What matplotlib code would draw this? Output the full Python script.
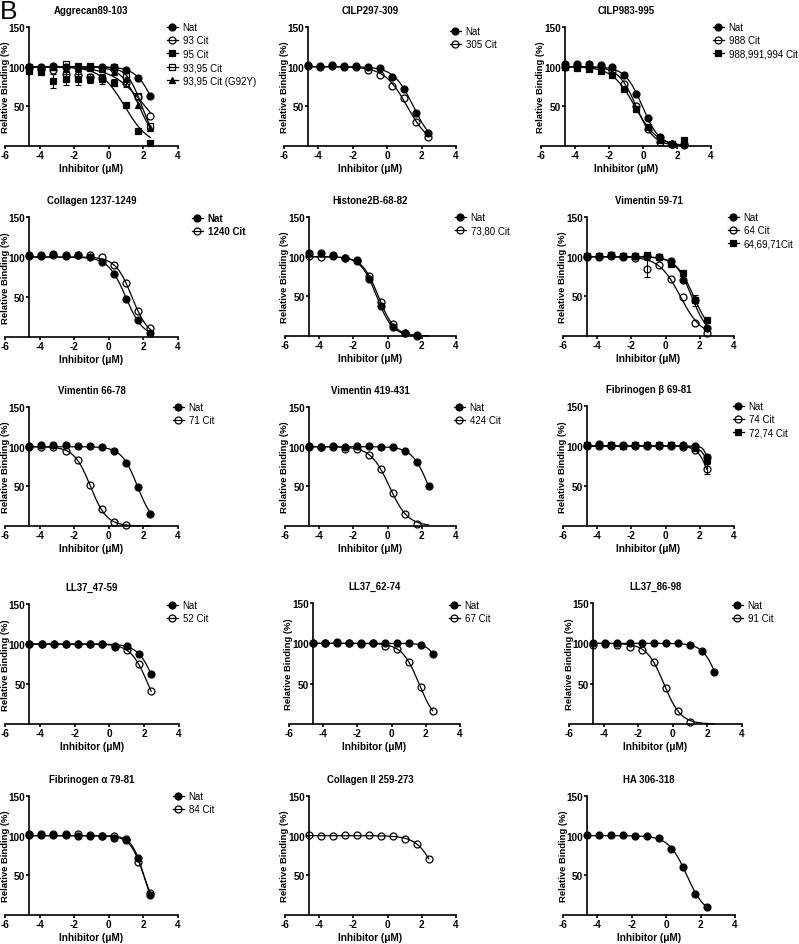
import matplotlib
matplotlib.use("Agg")
import matplotlib.pyplot as plt
from matplotlib.lines import Line2D
import numpy as np

plt.rcParams['font.family'] = ['Liberation Sans', 'DejaVu Sans']
plt.rcParams['axes.unicode_minus'] = False

W, H = 799, 945

# dosis (log) comunes a todos los paneles
X = [-4.6, -3.9, -3.2, -2.5, -1.8, -1.1, -0.4, 0.3, 1.0, 1.7, 2.4]
nan = np.nan

# ---- Aggrecan89-103
agg_nat = [100, 100, 101, 99, 100, 100, 100, 99, 96, 86, 63]
agg_93 = [99, 97, 96, 91, 89, 87, 86, 97, 79, 62, 38]
agg_93_err = [0, 0, 0, 4, 4, 4, 5, 0, 4, 0, 0]
agg_95 = [95, 93, 82, 84, 84, 85, 84, 80, 52, 19, 4]
agg_95_err = [3, 3, 9, 7, 7, 6, 6, 4, 2, 2, 1]
agg_9395 = [100, 98, 100, 103, 101, 101, 98, 100, 88, 63, 25]
agg_g92y = [99, 100, 99, 97, 98, 98, 97, 93, 84, 52, 23]
# ---- CILP297-309
cilp297_nat = [102, 101, 102, 101, 101, 100, 98, 87, 72, 42, 17]
cilp297_305 = [101, 99, 101, 100, 100, 96, 90, 76, 60, 30, 11]
# ---- CILP983-995
cilp983_nat = [103, 103, 103, 102, 99, 89, 65, 35, 11, 3, 2]
cilp983_988 = [100, 101, 100, 99, 94, 78, 50, 21, 5, 2, 1]
cilp983_triple = [100, 98, 97, 95, 89, 72, 47, 24, 7, 3, 8]
# ---- Collagen 1237-1249
col1237_nat = [103, 101, 104, 101, 102, 100, 94, 79, 48, 21, 5]
col1237_1240 = [101, 103, 103, 103, 103, 102, 100, 90, 67, 32, 11]
# ---- Histone2B-68-82
his_nat = [104, 104, 102, 98, 94, 72, 38, 11, 4, 1, nan]
his_7380 = [101, 100, 101, 98, 96, 76, 43, 15, 4, 0.5, nan]
# ---- Vimentin 59-71
vim59_nat = [101, 101, 102, 101, 101, 101, 100, 95, 71, 45, 10]
vim59_64 = [100, 100, 101, 100, 98, 85, 89, 72, 49, 17, 4]
vim59_64_err = [0, 0, 0, 0, 0, 11, 0, 0, 0, 0, 0]
vim59_triple = [101, 101, 102, 101, 101, 102, 99, 91, 79, 45, 20]
vim59_triple_err = [0, 0, 0, 0, 0, 0, 0, 0, 0, 7, 0]
# ---- Vimentin 66-78
vim66_nat = [101, 102, 102, 102, 101, 101, 99, 95, 79, 49, 15]
vim66_71 = [100, 100, 100, 95, 83, 52, 21, 5, 1, nan, nan]
# ---- Vimentin 419-431
vim419_nat = [101, 100, 101, 100, 101, 101, 100, 99, 95, 81, 50]
vim419_424 = [100, 100, 99, 97, 97, 89, 72, 42, 15, 3, nan]
# ---- Fibrinogen b 69-81
fibb_nat = [101, 102, 101, 101, 101, 101, 101, 101, 101, 100, 86]
fibb_74 = [100, 100, 100, 100, 100, 100, 100, 100, 99, 95, 71]
fibb_74_err = [0, 0, 0, 0, 0, 0, 0, 0, 0, 0, 6]
fibb_7274 = [101, 101, 101, 100, 101, 101, 101, 101, 100, 98, 82]
# ---- LL37
ll47_nat = [100, 100, 100, 100, 100, 100, 100, 98, 97, 88, 62]
ll47_52 = [100, 100, 100, 100, 100, 100, 100, 96, 92, 75, 41]
ll62_nat = [101, 101, 102, 101, 100, 100, 100, 100, 100, 98, 87]
ll62_67 = [100, 100, 100, 100, 99, 100, 97, 93, 77, 46, 16]
ll86_nat = [101, 100, 101, 100, 100, 100, 100, 100, 98, 90, 65]
ll86_91 = [98, 99, 98, 96, 92, 77, 45, 16, 3, nan, nan]
# ---- fila inferior
fiba_nat = [101, 101, 101, 101, 100, 100, 99, 97, 94, 72, 25]
fiba_84 = [102, 102, 102, 102, 102, 101, 100, 99, 96, 67, 28]
col2_cit = [101, 100, 100, 101, 101, 101, 100, 99, 96, 90, 71]
ha_nat = [101, 101, 101, 101, 100, 99, 97, 83, 61, 27, 10]

titles = ['Aggrecan89-103', 'CILP297-309', 'CILP983-995',
          'Collagen 1237-1249', 'Histone2B-68-82', 'Vimentin 59-71',
          'Vimentin 66-78', 'Vimentin 419-431', 'Fibrinogen β 69-81',
          'LL37_47-59', 'LL37_62-74', 'LL37_86-98',
          'Fibrinogen α 79-81', 'Collagen II 259-273', 'HA 306-318']

# (etiqueta, valores, errores, estilo)
series = [
    [('Nat', agg_nat, None, 'fc'), ('93 Cit', agg_93, agg_93_err, 'oc'),
     ('95 Cit', agg_95, agg_95_err, 'fs'), ('93,95 Cit', agg_9395, None, 'os'),
     ('93,95 Cit (G92Y)', agg_g92y, None, 'ft')],
    [('Nat', cilp297_nat, None, 'fc'), ('305 Cit', cilp297_305, None, 'oc')],
    [('Nat', cilp983_nat, None, 'fc'), ('988 Cit', cilp983_988, None, 'oc'),
     ('988,991,994 Cit', cilp983_triple, None, 'fs')],
    [('Nat', col1237_nat, None, 'fc'), ('1240 Cit', col1237_1240, None, 'oc')],
    [('Nat', his_nat, None, 'fc'), ('73,80 Cit', his_7380, None, 'oc')],
    [('Nat', vim59_nat, None, 'fc'), ('64 Cit', vim59_64, vim59_64_err, 'oc'),
     ('64,69,71Cit', vim59_triple, vim59_triple_err, 'fs')],
    [('Nat', vim66_nat, None, 'fc'), ('71 Cit', vim66_71, None, 'oc')],
    [('Nat', vim419_nat, None, 'fc'), ('424 Cit', vim419_424, None, 'oc')],
    [('Nat', fibb_nat, None, 'fc'), ('74 Cit', fibb_74, fibb_74_err, 'oc'),
     ('72,74 Cit', fibb_7274, None, 'fs')],
    [('Nat', ll47_nat, None, 'fc'), ('52 Cit', ll47_52, None, 'oc')],
    [('Nat', ll62_nat, None, 'fc'), ('67 Cit', ll62_67, None, 'oc')],
    [('Nat', ll86_nat, None, 'fc'), ('91 Cit', ll86_91, None, 'oc')],
    [('Nat', fiba_nat, None, 'fc'), ('84 Cit', fiba_84, None, 'oc')],
    [('Cit', col2_cit, None, 'oc')],
    [('Nat', ha_nat, None, 'fc')],
]
show_legend = [True] * 13 + [False, False]
legend_bold = [False, False, False, True] + [False] * 11

# cajas en pixeles: x(-6), x(4), y(150), y(0)
boxes = [(5, 178, 28, 147), (284, 456, 28, 147), (541, 711, 28, 147),
         (5, 178, 218, 338), (285, 456, 218, 337), (563, 734, 218, 337),
         (5, 178, 408, 527), (285, 456, 408, 527), (563, 734, 407, 527),
         (5, 179, 605, 725), (289, 460, 604, 725), (569, 742, 604, 725),
         (5, 178, 797, 916), (285, 456, 797, 916), (563, 735, 797, 916)]
# posicion del primer marcador de la leyenda (pixeles)
legend_xy = [(172, 29), (455, 33), (718, 29),
             (197, 220), (460, 219), (733, 219),
             (178, 409), (459, 409), (738, 408),
             (172, 607), (454, 607), (737, 607),
             (178, 798), (0, 0), (0, 0)]

estilos = {
    'fc': dict(marker='o', mfc='k', ms=5),
    'oc': dict(marker='o', mfc='none', ms=5),
    'fs': dict(marker='s', mfc='k', ms=4.6),
    'os': dict(marker='s', mfc='none', ms=4.6),
    'ft': dict(marker='^', mfc='k', ms=5),
}


def ajuste(x, y, top=100.0):
    # ajuste sigmoidal normalizado (top 100, bottom 0) por busqueda en rejilla
    ok = ~np.isnan(y)
    x, y = x[ok], y[ok]
    c = np.linspace(-4, 8, 601)[:, None, None]
    h = np.linspace(0.3, 3.0, 136)[None, :, None]
    f = top / (1.0 + 10 ** ((x[None, None, :] - c) * h))
    res = ((f - y) ** 2).sum(-1)
    i, j = np.unravel_index(np.argmin(res), res.shape)
    xs = np.linspace(X[0], X[-1], 300)
    ys = top / (1.0 + 10 ** ((xs - c[i, 0, 0]) * h[0, j, 0]))
    return xs, ys


fig = plt.figure(figsize=(W / 100, H / 100), dpi=100)
xarr = np.array(X)

for k in range(len(titles)):
    xl, xr, yt, yb = boxes[k]
    ax = fig.add_axes([xl / W, 1 - yb / H, (xr - xl) / W, (yb - yt) / H])
    handles = []
    labels = []
    for lab, vals, errs, st in series[k]:
        y = np.array(vals, dtype=float)
        xs, ys = ajuste(xarr, y)
        ax.plot(xs, ys, color='k', lw=0.9, clip_on=False, zorder=2)
        if errs is not None:
            e = np.array(errs, dtype=float)
            m = e > 0
            ax.errorbar(xarr[m], y[m], yerr=e[m], fmt='none', ecolor='k',
                        elinewidth=0.8, capsize=2, capthick=0.8, zorder=2)
        ax.plot(xarr, y, ls='none', color='k', mec='k', mew=0.9,
                clip_on=False, zorder=3, **estilos[st])
        handles.append(Line2D([], [], color='k', lw=0.9, mec='k', mew=0.9,
                              **estilos[st]))
        labels.append(lab)

    ax.set_xlim(-6, 4)
    ax.set_ylim(0, 150)
    ax.set_xticks([-6, -4, -2, 0, 2, 4])
    ax.set_yticks([50, 100, 150])
    ax.spines['top'].set_visible(False)
    ax.spines['right'].set_visible(False)
    ax.spines['left'].set_position(('data', -4.6))
    ax.spines['left'].set_linewidth(1.2)
    ax.spines['bottom'].set_linewidth(1.2)
    ax.tick_params(length=2, width=1.2, pad=0.8, labelsize=7.2)
    for t in ax.get_xticklabels() + ax.get_yticklabels():
        t.set_fontweight('bold')
    ax.set_title(titles[k], fontsize=6.9, fontweight='bold', pad=10)
    ax.set_xlabel('Inhibitor (μM)', fontsize=7.2, fontweight='bold', labelpad=2)
    ax.set_ylabel('Relative Binding (%)', fontsize=6.8, fontweight='bold')
    # etiqueta y a la izquierda del eje vertical
    spine_px = xl + (xr - xl) * (1.4 / 10)
    ax.yaxis.set_label_coords((spine_px - 19.5 - xl) / (xr - xl), 0.5)
    ax.patch.set_visible(False)

    if show_legend[k]:
        lx, ly = legend_xy[k]
        ax.legend(handles, labels, loc='upper left',
                  bbox_to_anchor=((lx - 5) / W, 1 - (ly - 6) / H),
                  bbox_transform=fig.transFigure, frameon=False,
                  prop=dict(size=7, weight='bold' if legend_bold[k] else 'normal'),
                  handlelength=1.1, handletextpad=0.5, labelspacing=0.35,
                  borderpad=0, borderaxespad=0, numpoints=1)

fig.text(0 / W, 1 - 0 / H, 'B', fontsize=19, ha='left', va='top')

plt.savefig('out.png', dpi=100)
